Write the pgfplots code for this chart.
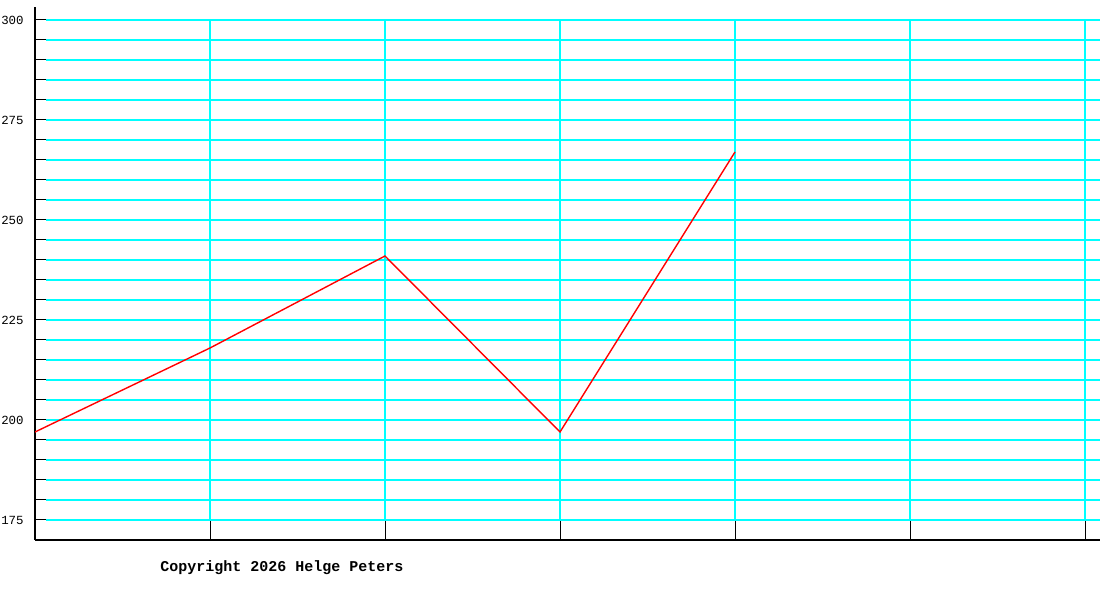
\documentclass[border=0pt]{standalone}
\usepackage{fontspec}
\setmainfont{Liberation Mono}
\usepackage{pgfplots}
\pgfplotsset{compat=1.18}
\definecolor{gridcyan}{RGB}{0,255,255}
\definecolor{linered}{RGB}{255,0,0}
\begin{document}
\begin{tikzpicture}
% 1px = 0.5pt, picture is 1100x600 px
\useasboundingbox (0,0) rectangle (550pt,300pt);
\begin{axis}[
    at={(17.5pt,30pt)}, anchor=south west,
    scale only axis,
    width=532.5pt, height=266.5pt,
    xmin=0, xmax=6.0857,
    ymin=170, ymax=303.25,
    axis x line=bottom, axis y line=left,
    axis line style={-, line width=0.8pt, black},
    xtick={1,2,3,4,5,6}, xticklabels={},
    ytick={175,200,225,250,275,300},
    minor y tick num=4,
    tick align=inside,
    major tick length=5.5pt, minor tick length=5.5pt,
    tick style={black, line width=0.5pt},
    xtick style={/pgfplots/major tick length=10pt},
    yticklabel style={font=\fontsize{6.2}{7}\selectfont, inner sep=0pt, xshift=-5.5pt},
    /pgf/number format/assume math mode=true,
]
% grid
\pgfplotsinvokeforeach{175,180,...,300}{
    \draw[gridcyan, line width=0.65pt] (axis cs:0.0629,#1) -- (axis cs:6.0857,#1);
}
\pgfplotsinvokeforeach{1,...,6}{
    \draw[gridcyan, line width=0.65pt] (axis cs:#1,175) -- (axis cs:#1,300);
}
\addplot[linered, line width=0.7pt, mark=none] coordinates {
    (0,197) (1,218) (2,241) (3,197) (4,267)
};
\end{axis}
\node[anchor=west, inner sep=0pt, font=\bfseries\fontsize{7.5}{9}\selectfont] at (80pt,16pt) {Copyright 2026 Helge Peters};
\end{tikzpicture}
\end{document}
